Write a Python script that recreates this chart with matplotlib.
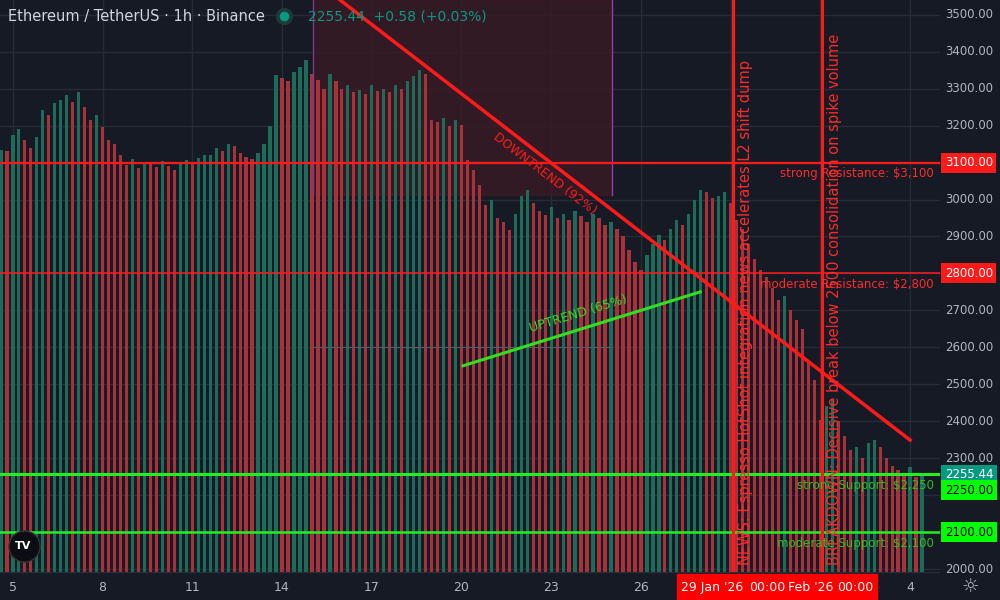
import matplotlib.pyplot as plt
import numpy as np

# 4-hourly-ish close prices (Jan 4.6 .. Feb 4.4, step 0.2 day)
start_day = 4.6
step = 0.2
closes = [
    3135, 3130, 3175, 3190, 3160, 3140, 3170, 3243, 3230, 3260,
    3270, 3283, 3265, 3290, 3250, 3215, 3230, 3195, 3160, 3150,
    3120, 3094, 3110, 3085, 3100, 3095, 3088, 3105, 3090, 3080,
    3100, 3107, 3095, 3112, 3120, 3120, 3140, 3130, 3150, 3145,
    3125, 3115, 3110, 3125, 3150, 3200, 3338, 3330, 3320, 3345,
    3360, 3378, 3340, 3324, 3300, 3340, 3320, 3300, 3310, 3290,
    3297, 3285, 3310, 3295, 3300, 3290, 3310, 3300, 3320, 3335,
    3350, 3340, 3215, 3210, 3220, 3200, 3215, 3202, 3107, 3080,
    3040, 2986, 3000, 2950, 2940, 2918, 2960, 3010, 3026, 2990,
    2970, 2958, 2980, 2950, 2960, 2945, 2970, 2955, 2940, 2960,
    2950, 2931, 2940, 2920, 2900, 2864, 2830, 2810, 2850, 2880,
    2904, 2890, 2920, 2945, 2930, 2960, 3000, 3026, 3020, 3005,
    3010, 3020, 2990, 2945, 2920, 2880, 2840, 2810, 2790, 2760,
    2728, 2740, 2700, 2674, 2650, 2560, 2512, 2403, 2440, 2458,
    2400, 2360, 2322, 2330, 2300, 2340, 2350, 2330, 2300, 2280,
    2268, 2260, 2275, 2250, 2255,
]
price_ticks = [2000, 2100, 2200, 2300, 2400, 2500, 2600, 2700, 2800, 2900,
               3000, 3100, 3200, 3300, 3400, 3500]
day_ticks = [5, 8, 11, 14, 17, 20, 23, 26, 29, 32, 35]
day_labels = ['5', '8', '11', '14', '17', '20', '23', '26', '29', '1', '4']
last_price = 2255.44

bg = '#161a25'
red_bar = '#a8323a'
green_bar = '#1e6b5a'

fig = plt.figure(figsize=(10, 6), dpi=100, facecolor=bg)
ax = fig.add_axes([0, 28/600, 0.94, 572/600])
ax.set_facecolor(bg)
xmin, xmax = 4.57, 36.0
ymin, ymax = 1992, 3540
ax.set_xlim(xmin, xmax)
ax.set_ylim(ymin, ymax)
for s in ax.spines.values():
    s.set_visible(False)
ax.set_xticks([])
ax.set_yticks([])

for p in price_ticks:
    ax.axhline(p, color='#262b38', lw=1, zorder=0)
for d in day_ticks:
    ax.axvline(d, color='#262b38', lw=1, zorder=0)

# shaded zone
ax.fill_between([15.04, 25.04], 3013, ymax, color='#3a1a24', alpha=0.8, zorder=0.5)
ax.axvline(15.04, ymin=(3013 - ymin) / (ymax - ymin), color='#7a3a8a', lw=1, zorder=3)
ax.axvline(25.04, ymin=(3013 - ymin) / (ymax - ymin), color='#9a3ab0', lw=1, zorder=3)
ax.plot([15.04, 25.04], [2601, 2601], color='#555a66', lw=0.8, zorder=3)

xs = start_day + step * np.arange(len(closes))
cols = [green_bar] + [green_bar if closes[i] >= closes[i - 1] else red_bar
                      for i in range(1, len(closes))]
ax.bar(xs, np.array(closes) - ymin, bottom=ymin, width=step * 0.55,
       color=cols, zorder=1)

# levels
ax.axhline(3100, color='#ff1a1a', lw=1.6, zorder=4)
ax.axhline(2800, color='#ff1a1a', lw=1.1, zorder=4)
ax.axhline(2258, color='#22ee22', lw=2.2, zorder=4)
ax.axhline(2100, color='#22ee22', lw=1.8, zorder=4)
ax.text(35.8, 3088, 'strong Resistance: $3,100', color='#ff2a2a', fontsize=8.5,
        ha='right', va='top', zorder=6)
ax.text(35.8, 2788, 'moderate Resistance: $2,800', color='#ff2a2a', fontsize=8.5,
        ha='right', va='top', zorder=6)
ax.text(35.8, 2245, 'strong Support: $2,250', color='#33bb22', fontsize=8.5,
        ha='right', va='top', zorder=6)
ax.text(35.8, 2088, 'moderate Support: $2,100', color='#33bb22', fontsize=8.5,
        ha='right', va='top', zorder=6)

# trend lines
ax.plot([15.94, 35.0], [3540, 2349], color='#ff1a1a', lw=2.5, zorder=5)
ax.text(22.8, 3070, 'DOWNTREND (92%)', color='#ff1a1a', fontsize=9,
        rotation=-37.5, ha='center', va='center', zorder=6)
ax.plot([20.05, 27.98], [2550, 2750], color='#33dd22', lw=2.2, zorder=5)
ax.text(23.9, 2690, 'UPTREND (65%)', color='#33dd22', fontsize=9,
        rotation=17, ha='center', va='center', zorder=6)

# event lines
ax.axvline(29.08, color='#ff1a1a', lw=2.2, zorder=5)
ax.axvline(32.06, color='#ff1a1a', lw=2.2, zorder=5)
ax.text(29.5, 2010, 'NEWS: Espresso HotShot integration news accelerates L2 shift dump',
        color='#ff2a2a', fontsize=10.5, rotation=90, ha='center', va='bottom', zorder=6)
ax.text(32.48, 2010, 'BREAKDOWN: Decisive break below 2500 consolidation on spike volume',
        color='#ff2a2a', fontsize=10.5, rotation=90, ha='center', va='bottom', zorder=6)

# title
ax.text(0.008, 0.972, 'Ethereum / TetherUS · 1h · Binance', transform=ax.transAxes,
        color='#d1d4dc', fontsize=10.5, va='center', zorder=7)
ax.scatter([0.302], [0.972], transform=ax.transAxes, s=130, color='#1d3a38', zorder=7)
ax.scatter([0.302], [0.972], transform=ax.transAxes, s=35, color='#089981', zorder=8)
ax.text(0.328, 0.972, '2255.44  +0.58 (+0.03%)', transform=ax.transAxes,
        color='#089981', fontsize=10, va='center', zorder=7)

# logo
ax.scatter([0.025], [0.045], transform=ax.transAxes, s=500, color='#0b0d12',
           edgecolor='#333', zorder=7)
ax.text(0.025, 0.045, 'TV', transform=ax.transAxes, color='white', fontsize=8,
        fontweight='bold', ha='center', va='center', zorder=8)

# price scale
pax = fig.add_axes([0.94, 28/600, 0.06, 572/600], sharey=ax)
pax.set_facecolor(bg)
pax.set_xticks([])
for s in pax.spines.values():
    s.set_visible(False)
pax.tick_params(left=False, labelleft=False)
for p in price_ticks:
    pax.text(0.08, p, f'{p:.2f}', color='#b2b5be', fontsize=8.5, va='center')
tags = [(3100, '3100.00', '#ff1a1a', 'white'),
        (2800, '2800.00', '#ff1a1a', 'white'),
        (last_price, f'{last_price:.2f}', '#089981', 'white'),
        (2213, '2250.00', '#00ff00', 'black'),
        (2100, '2100.00', '#00ff00', 'black')]
for y, t, fc, tc in tags:
    pax.text(0.08, y, t, color=tc, fontsize=8.5, va='center', zorder=5,
             bbox=dict(boxstyle='square,pad=0.3', fc=fc, ec='none'))
pax.set_yticks([])

# time scale
tax = fig.add_axes([0, 0, 0.94, 28/600])
tax.set_facecolor(bg)
tax.set_xlim(xmin, xmax)
tax.set_ylim(0, 1)
tax.set_xticks([])
tax.set_yticks([])
for s in tax.spines.values():
    s.set_visible(False)
tax.axhline(1, color='#2a2e39', lw=1)
for d, l in zip(day_ticks, day_labels):
    if 27 < d < 33:
        continue
    tax.text(d, 0.45, l, color='#b2b5be', fontsize=9, ha='center', va='center')
tax.axvspan(27.21, 33.9, ymin=0, ymax=0.92, color='#ff0000')
tax.text(28.38, 0.45, "29 Jan '26", color='white', fontsize=9, ha='center', va='center')
tax.text(30.22, 0.45, '00:00', color='white', fontsize=9, ha='center', va='center')
tax.text(31.66, 0.45, "Feb '26", color='white', fontsize=9, ha='center', va='center')
tax.text(33.17, 0.45, '00:00', color='white', fontsize=9, ha='center', va='center')
fig.text(0.97, 0.022, '☼', color='#b2b5be', fontsize=14, ha='center', va='center')

fig.savefig('out.png', dpi=100, facecolor=bg)
